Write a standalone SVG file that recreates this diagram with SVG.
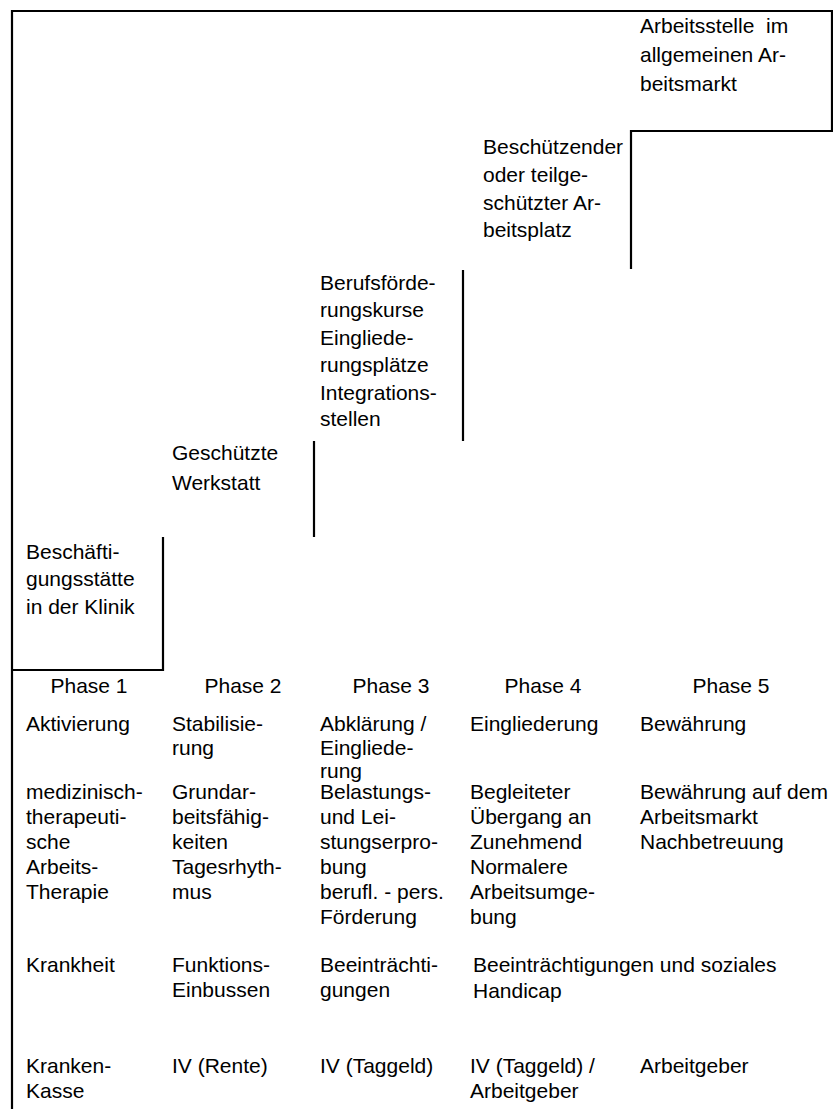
<svg xmlns="http://www.w3.org/2000/svg" width="833" height="1109" viewBox="0 0 833 1109">
<style>
text { font-family: "Liberation Sans", Arial, sans-serif; font-size: 21px; fill: #000; }
.ln { stroke: #000; stroke-width: 2.2; fill: none; }
.ph { text-anchor: middle; }
</style>
<rect x="0" y="0" width="833" height="1109" fill="#fff"/>
<g id="connectors">
  <polyline class="ln" points="12,1109 12,11 832,11 832,131 631,131 631,269"/>
  <line class="ln" x1="463" y1="270" x2="463" y2="441"/>
  <line class="ln" x1="314" y1="441" x2="314" y2="537"/>
  <polyline class="ln" points="163,537 163,670 12,670"/>
</g>
<g id="step5">
  <text x="640" y="33" xml:space="preserve">Arbeitsstelle  im</text>
  <text x="640" y="62">allgemeinen Ar-</text>
  <text x="640" y="91">beitsmarkt</text>
</g>
<g id="step4">
  <text x="483" y="154">Beschützender</text>
  <text x="483" y="182">oder teilge-</text>
  <text x="483" y="210">schützter Ar-</text>
  <text x="483" y="237">beitsplatz</text>
</g>
<g id="step3">
  <text x="320" y="290">Berufsförde-</text>
  <text x="320" y="317">rungskurse</text>
  <text x="320" y="345">Eingliede-</text>
  <text x="320" y="372">rungsplätze</text>
  <text x="320" y="400">Integrations-</text>
  <text x="320" y="426">stellen</text>
</g>
<g id="step2">
  <text x="172" y="460">Geschützte</text>
  <text x="172" y="490">Werkstatt</text>
</g>
<g id="step1">
  <text x="26" y="559">Beschäfti-</text>
  <text x="26" y="586">gungsstätte</text>
  <text x="26" y="614">in der Klinik</text>
</g>
<g id="phases">
  <text class="ph" x="89" y="693">Phase 1</text>
  <text class="ph" x="243" y="693">Phase 2</text>
  <text class="ph" x="391" y="693">Phase 3</text>
  <text class="ph" x="543" y="693">Phase 4</text>
  <text class="ph" x="731" y="693">Phase 5</text>
</g>
<g id="row-goals">
  <text x="26" y="731">Aktivierung</text>
  <text x="172" y="731">Stabilisie-</text>
  <text x="172" y="755">rung</text>
  <text x="320" y="731">Abklärung /</text>
  <text x="320" y="755">Eingliede-</text>
  <text x="320" y="778">rung</text>
  <text x="470" y="731">Eingliederung</text>
  <text x="640" y="731">Bewährung</text>
</g>
<g id="row-content">
  <text x="26" y="799">medizinisch-</text>
  <text x="26" y="824">therapeuti-</text>
  <text x="26" y="849">sche</text>
  <text x="26" y="874">Arbeits-</text>
  <text x="26" y="899">Therapie</text>
  <text x="172" y="799">Grundar-</text>
  <text x="172" y="824">beitsfähig-</text>
  <text x="172" y="849">keiten</text>
  <text x="172" y="874">Tagesrhyth-</text>
  <text x="172" y="899">mus</text>
  <text x="320" y="799">Belastungs-</text>
  <text x="320" y="824">und Lei-</text>
  <text x="320" y="849">stungserpro-</text>
  <text x="320" y="874">bung</text>
  <text x="320" y="899">berufl. - pers.</text>
  <text x="320" y="924">Förderung</text>
  <text x="470" y="799">Begleiteter</text>
  <text x="470" y="824">Übergang an</text>
  <text x="470" y="849">Zunehmend</text>
  <text x="470" y="874">Normalere</text>
  <text x="470" y="899">Arbeitsumge-</text>
  <text x="470" y="924">bung</text>
  <text x="640" y="799">Bewährung auf dem</text>
  <text x="640" y="824">Arbeitsmarkt</text>
  <text x="640" y="849">Nachbetreuung</text>
</g>
<g id="row-condition">
  <text x="26" y="972">Krankheit</text>
  <text x="172" y="972">Funktions-</text>
  <text x="172" y="997">Einbussen</text>
  <text x="320" y="972">Beeinträchti-</text>
  <text x="320" y="997">gungen</text>
  <text x="473" y="972">Beeinträchtigungen und soziales</text>
  <text x="473" y="998">Handicap</text>
</g>
<g id="row-payer">
  <text x="26" y="1073">Kranken-</text>
  <text x="26" y="1098">Kasse</text>
  <text x="172" y="1073">IV (Rente)</text>
  <text x="320" y="1073">IV (Taggeld)</text>
  <text x="470" y="1073">IV (Taggeld) /</text>
  <text x="470" y="1098">Arbeitgeber</text>
  <text x="640" y="1073">Arbeitgeber</text>
</g>
</svg>
